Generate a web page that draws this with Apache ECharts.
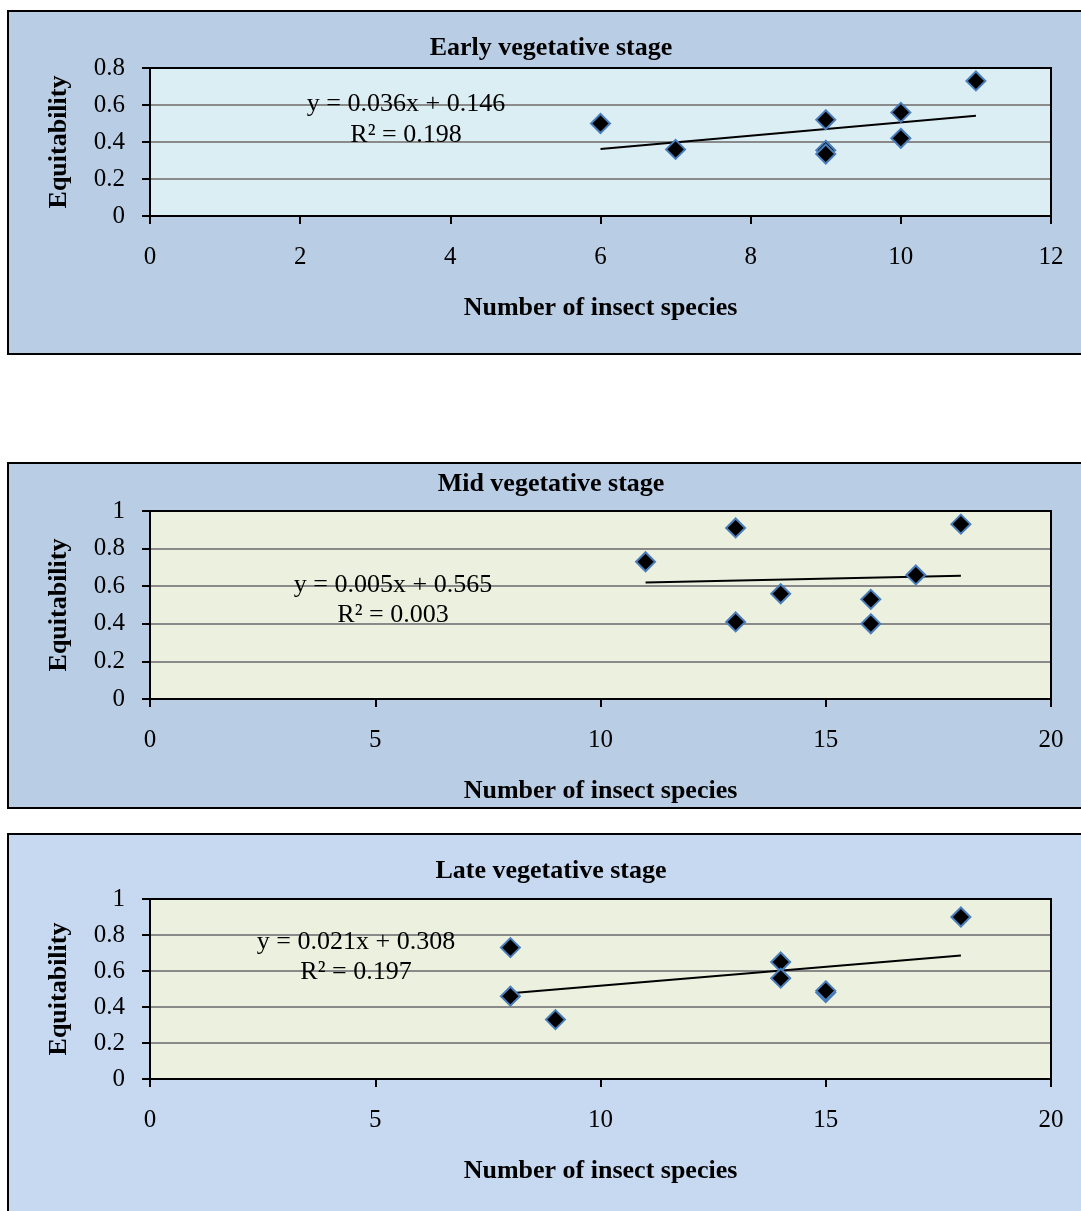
<!DOCTYPE html>
<html>
<head>
<meta charset="utf-8">
<script src="https://cdn.jsdelivr.net/npm/echarts@6/dist/echarts.min.js"></script>
<style>
html,body{margin:0;padding:0;background:#ffffff;}
#chart{width:1081px;height:1211px;}
</style>
</head>
<body>
<div id="chart"></div>
<script>
// ---- Data ----
const titles = ["Early vegetative stage", "Mid vegetative stage", "Late vegetative stage"];
const xAxisTitle = "Number of insect species";
const yAxisTitle = "Equitability";

const earlyX = [6, 7, 9, 9, 9, 10, 10, 11];
const earlyY = [0.50, 0.36, 0.52, 0.355, 0.335, 0.56, 0.42, 0.73];
const earlyTrend = [[6, 0.362], [11, 0.542]];
const earlyEq = ["y = 0.036x + 0.146", "R² = 0.198"];

const midX = [11, 13, 13, 14, 16, 16, 17, 18];
const midY = [0.73, 0.91, 0.41, 0.56, 0.53, 0.40, 0.66, 0.93];
const midTrend = [[11, 0.62], [18, 0.655]];
const midEq = ["y = 0.005x + 0.565", "R² = 0.003"];

const lateX = [8, 8, 9, 14, 14, 15, 15, 18];
const lateY = [0.73, 0.46, 0.33, 0.65, 0.56, 0.48, 0.49, 0.90];
const lateTrend = [[8, 0.476], [18, 0.686]];
const lateEq = ["y = 0.021x + 0.308", "R² = 0.197"];

const xMax = [12, 20, 20];
const xStep = [2, 5, 5];
const yMax = [0.8, 1, 1];
const yStep = [0.2, 0.2, 0.2];

// ---- Layout / style ----
const FONT = "Liberation Serif";
const grids = [
  {left: 150, top: 68, width: 901, height: 148},
  {left: 150, top: 511, width: 901, height: 188},
  {left: 150, top: 899, width: 901, height: 180}
];
const outerBoxes = [
  {y: 11, h: 343, fill: "#b9cde5"},
  {y: 463, h: 345, fill: "#b9cde5"},
  {y: 834, h: 400, fill: "#c6d9f1"}
];
const plotFills = ["#dbeef4", "#ebf1de", "#ebf1de"];
const titleY = [48, 484, 871];
const eqPos = [[406, 104, 135], [393, 585, 615], [356, 942, 972]];

const pointsSets = [[earlyX, earlyY], [midX, midY], [lateX, lateY]];
const trends = [earlyTrend, midTrend, lateTrend];
const eqs = [earlyEq, midEq, lateEq];

const graphics = [];
outerBoxes.forEach(b => {
  graphics.push({type: 'rect', z: -10, shape: {x: 8, y: b.y, width: 1100, height: b.h},
    style: {fill: b.fill, stroke: '#000', lineWidth: 2}});
});
titles.forEach((t, i) => {
  graphics.push({type: 'text', x: 551, y: titleY[i], z: 10,
    style: {text: t, font: 'bold 26px "' + FONT + '"', fill: '#000', textAlign: 'center', textVerticalAlign: 'middle'}});
});
eqs.forEach((e, i) => {
  graphics.push({type: 'text', x: eqPos[i][0], y: eqPos[i][1], z: 10,
    style: {text: e[0], font: '26px "' + FONT + '"', fill: '#000', textAlign: 'center', textVerticalAlign: 'middle'}});
  graphics.push({type: 'text', x: eqPos[i][0], y: eqPos[i][2], z: 10,
    style: {text: e[1], font: '26px "' + FONT + '"', fill: '#000', textAlign: 'center', textVerticalAlign: 'middle'}});
});
// plot-area frame drawn over the grid lines
grids.forEach(g => {
  graphics.push({type: 'rect', z: 2, silent: true, shape: {x: g.left, y: g.top, width: g.width, height: g.height},
    style: {fill: null, stroke: '#000', lineWidth: 2}});
});

const option = {
  animation: false,
  backgroundColor: '#ffffff',
  graphic: graphics,
  grid: grids.map((g, i) => Object.assign({show: true, backgroundColor: plotFills[i], borderColor: '#000', borderWidth: 2}, g)),
  xAxis: grids.map((g, i) => ({
    type: 'value', gridIndex: i, min: 0, max: xMax[i], interval: xStep[i],
    name: xAxisTitle, nameLocation: 'middle', nameGap: 79,
    nameTextStyle: {fontFamily: FONT, fontWeight: 'bold', fontSize: 26, color: '#000'},
    axisLine: {show: true, onZero: false, lineStyle: {color: '#000', width: 2}},
    axisTick: {show: true, inside: false, length: 8, lineStyle: {color: '#000', width: 2}},
    axisLabel: {fontFamily: FONT, fontSize: 25, color: '#000', margin: 29},
    splitLine: {show: false}
  })),
  yAxis: grids.map((g, i) => ({
    type: 'value', gridIndex: i, min: 0, max: yMax[i], interval: yStep[i],
    name: yAxisTitle, nameLocation: 'middle', nameGap: 78,
    nameTextStyle: {fontFamily: FONT, fontWeight: 'bold', fontSize: 26, color: '#000'},
    axisLine: {show: true, onZero: false, lineStyle: {color: '#000', width: 2}},
    axisTick: {show: true, inside: false, length: 8, lineStyle: {color: '#000', width: 2}},
    axisLabel: {fontFamily: FONT, fontSize: 25, color: '#000', margin: 25,
      formatter: v => String(Math.round(v * 10) / 10)},
    splitLine: {show: true, lineStyle: {color: '#8a8a8a', width: 2}}
  })),
  series: []
};

pointsSets.forEach((ps, i) => {
  option.series.push({
    type: 'line', xAxisIndex: i, yAxisIndex: i, data: trends[i],
    showSymbol: false, symbol: 'none', lineStyle: {color: '#000', width: 2}, z: 3, silent: true
  });
  option.series.push({
    type: 'scatter', xAxisIndex: i, yAxisIndex: i,
    data: ps[0].map((x, k) => [x, ps[1][k]]),
    symbol: 'diamond', symbolSize: 19,
    itemStyle: {color: '#000', borderColor: '#4a7ebb', borderWidth: 2, opacity: 1}, z: 4
  });
});

const chart = echarts.init(document.getElementById('chart'), null, {renderer: 'canvas'});
chart.setOption(option);
</script>
</body>
</html>
